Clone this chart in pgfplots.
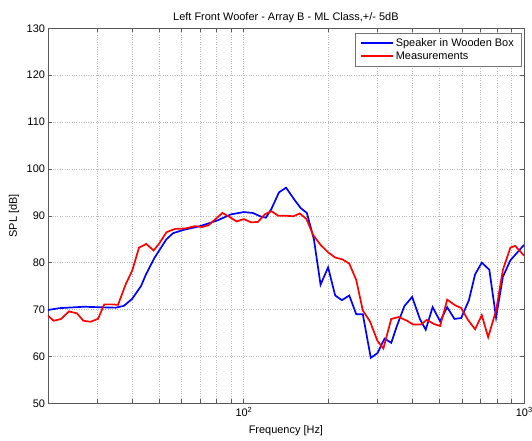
\documentclass[border=0pt]{standalone}
\usepackage{pgfplots}
\pgfplotsset{compat=1.18}
\usepackage{fontspec}
\setmainfont{Liberation Sans}
\begin{document}
\fontsize{11}{13}\selectfont
\begin{tikzpicture}
\useasboundingbox (-47.8bp,-37.7bp) rectangle (484.2bp,403.3bp);
\begin{axis}[
  at={(0,0)}, anchor=south west,
  width=476.2bp, height=375bp, scale only axis,
  xmode=log, xmin=20, xmax=1000, ymin=50, ymax=130,
  ytick={50,60,...,130},
  xtick={100,1000}, xticklabels={10\raisebox{0.75ex}{\fontsize{7.5}{8}\selectfont 2},10\raisebox{0.75ex}{\fontsize{7.5}{8}\selectfont 3}},
  minor xtick={20,30,40,50,60,70,80,90,200,300,400,500,600,700,800,900},
  grid=both,
  major grid style={dotted, gray!55, line width=0.5pt},
  minor grid style={dotted, gray!55, line width=0.5pt},
  axis line style={black!65, line width=0.6pt},
  tick style={black!65, line width=0.5pt},
  major tick length=4bp, minor tick length=4bp,
  tick align=inside,
  /pgf/number format/assume math mode=true,
  ticklabel style={font=\fontsize{11}{13}\selectfont},
  yticklabel style={xshift=1bp},
  title={Left Front Woofer - Array B - ML Class,+/- 5dB},
  title style={font=\fontsize{11}{13}\selectfont, yshift=-4bp},
  xlabel={Frequency [Hz]}, ylabel={SPL [dB]},
  xlabel style={font=\fontsize{11}{13}\selectfont, yshift=-1bp},
  ylabel style={font=\fontsize{11}{13}\selectfont},
  legend style={at={(0.9937,0.988)}, anchor=north east, draw=black!55, font=\fontsize{11}{13}\selectfont, inner xsep=5bp, inner ysep=3.5bp, row sep=-0.5bp},
  legend cell align=left,
  legend image code/.code={\draw[#1] plot coordinates {(0bp,0bp) (16bp,0bp) (32bp,0bp)};},
]
\addlegendimage{blue, line width=1.7pt}
\addlegendentry{Speaker in Wooden Box}
\addlegendimage{red, line width=1.7pt}
\addlegendentry{Measurements}
\addplot[blue, line width=1.7pt, forget plot] coordinates {
(20,69.9)(22,70.3)(26.9,70.6)(30.2,70.5)(35,70.4)(37.4,70.8)(40,72.3)(43,75)(44.8,77.5)(48,81)(53,85)(56,86.3)(61,87)(70,87.8)(80.5,89)(90,90.3)(100,90.8)(107.8,90.6)(115.5,89.8)(120,89.6)(125.6,91.5)(133.6,95)(141.6,96)(152.6,93.2)(160,91.6)(168,90.6)(178,85)(188,75.3)(200,79)(212,73)(224,72)(238,73)(252,69)(266,69)(284,59.7)(300,60.7)(318,63.8)(336,62.9)(352,66.5)(374,70.7)(399,72.7)(425,68)(446,65.7)(472,70.5)(502,67.5)(532,70.5)(565,68)(597,68.2)(636,72)(669,77.5)(707,80)(752,78.5)(795,68.3)(841,77)(894,80.5)(1000,83.8)
};
\addplot[red, line width=1.7pt, forget plot] coordinates {
(20,68.7)(21,67.6)(22.3,68)(23.8,69.6)(25.4,69.2)(26.8,67.6)(28.4,67.4)(30.2,68)(31.8,71.1)(34,71.1)(35.6,71)(38,75.5)(40,78.3)(42.3,83.2)(44.9,84)(47.7,82.6)(50.1,84.2)(53,86.5)(56.8,87.2)(61.8,87.3)(67,87.8)(71,87.6)(75,88)(79,89.2)(83.9,90.6)(88.7,89.8)(94.3,88.8)(100,89.3)(106.3,88.6)(112.4,88.7)(118.9,90.3)(125.6,91)(132.8,90)(142.4,90)(150.5,89.9)(158.5,90.5)(167.5,89.3)(176.5,86)(188,83.8)(200,82.2)(212,81.1)(225,80.7)(238,79.8)(252,76.3)(266,69.8)(282,67.5)(300,63.3)(315,61.7)(336,68)(357,68.4)(383,67.6)(402,66.8)(428,66.8)(450,67.8)(478,66.9)(502,66.5)(532,72.1)(565,71)(597,70.3)(631,67.8)(669,65.8)(707,68.8)(745,64.1)(795,69.8)(841,78.5)(894,83.2)(930,83.6)(1000,81.5)
};
\end{axis}
\end{tikzpicture}
\end{document}
